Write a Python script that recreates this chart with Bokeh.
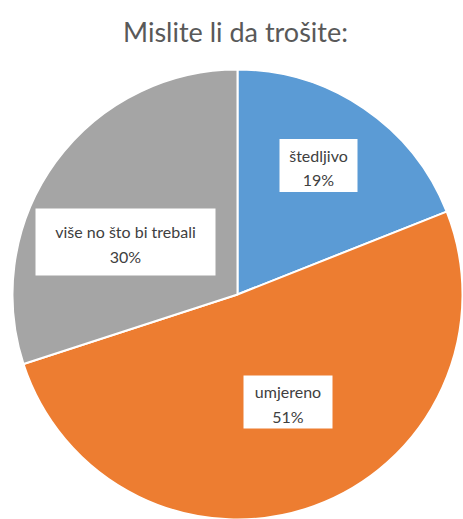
import numpy as np
from bokeh.plotting import figure
from bokeh.models import Range1d, ColumnDataSource
from bokeh.core.properties import value
from bokeh.embed import file_html
from bokeh.resources import INLINE

# ---- data ----
title_text = "Mislite li da trošite:"
categories = ["štedljivo", "umjereno", "više no što bi trebali"]
percents = [19, 51, 30]
colors = ["#5B9BD5", "#ED7D31", "#A5A5A5"]

# ---- layout (pixel coordinates of the window, y downward) ----
W, H = 463, 519
OX, OY = 0, 0
FONT = "Lato"

def fy(py):
    return 519 - py

p = figure(width=W, height=H, output_backend="svg", toolbar_location=None,
           x_range=Range1d(OX, OX + W), y_range=Range1d(519 - (OY + H), 519 - OY),
           min_border=0)
p.axis.visible = False
p.grid.visible = False
p.outline_line_color = None
p.background_fill_color = "white"
p.border_fill_color = "white"

cx, cy, r = 237, 294, 225
frac = np.array(percents, dtype=float) / sum(percents)
cum = np.concatenate([[0], np.cumsum(frac)])
starts = np.pi / 2 - 2 * np.pi * cum[:-1]
ends = np.pi / 2 - 2 * np.pi * cum[1:]

src = ColumnDataSource(dict(start=starts, end=ends, color=colors))
p.wedge(x=cx, y=fy(cy), radius=r, start_angle="start", end_angle="end",
        direction="clock", fill_color="color", line_color="white", line_width=2,
        source=src)

# label boxes: centre and size in pixels
box_cx = [318, 287.5, 125]
box_cy = [165, 401.5, 241.5]
box_w = [78, 89, 180]
box_h = [53, 53, 67]
labels = [f"{c}\n{v}%" for c, v in zip(categories, percents)]

p.rect(x=box_cx, y=[fy(v) for v in box_cy], width=box_w, height=box_h,
       fill_color="white", line_color=None)
p.text(x=box_cx, y=[fy(v + 2) for v in box_cy], text=labels,
       text_align="center", text_baseline="middle",
       text_font=value(FONT), text_font_size="16px", text_color="#404040",
       text_line_height=1.3)

# title
p.text(x=[235], y=[fy(31)], text=[title_text], text_align="center",
       text_baseline="middle", text_font=value(FONT), text_font_size="27px",
       text_color="#595959")

open("out.html", "w").write(file_html(p, INLINE))
